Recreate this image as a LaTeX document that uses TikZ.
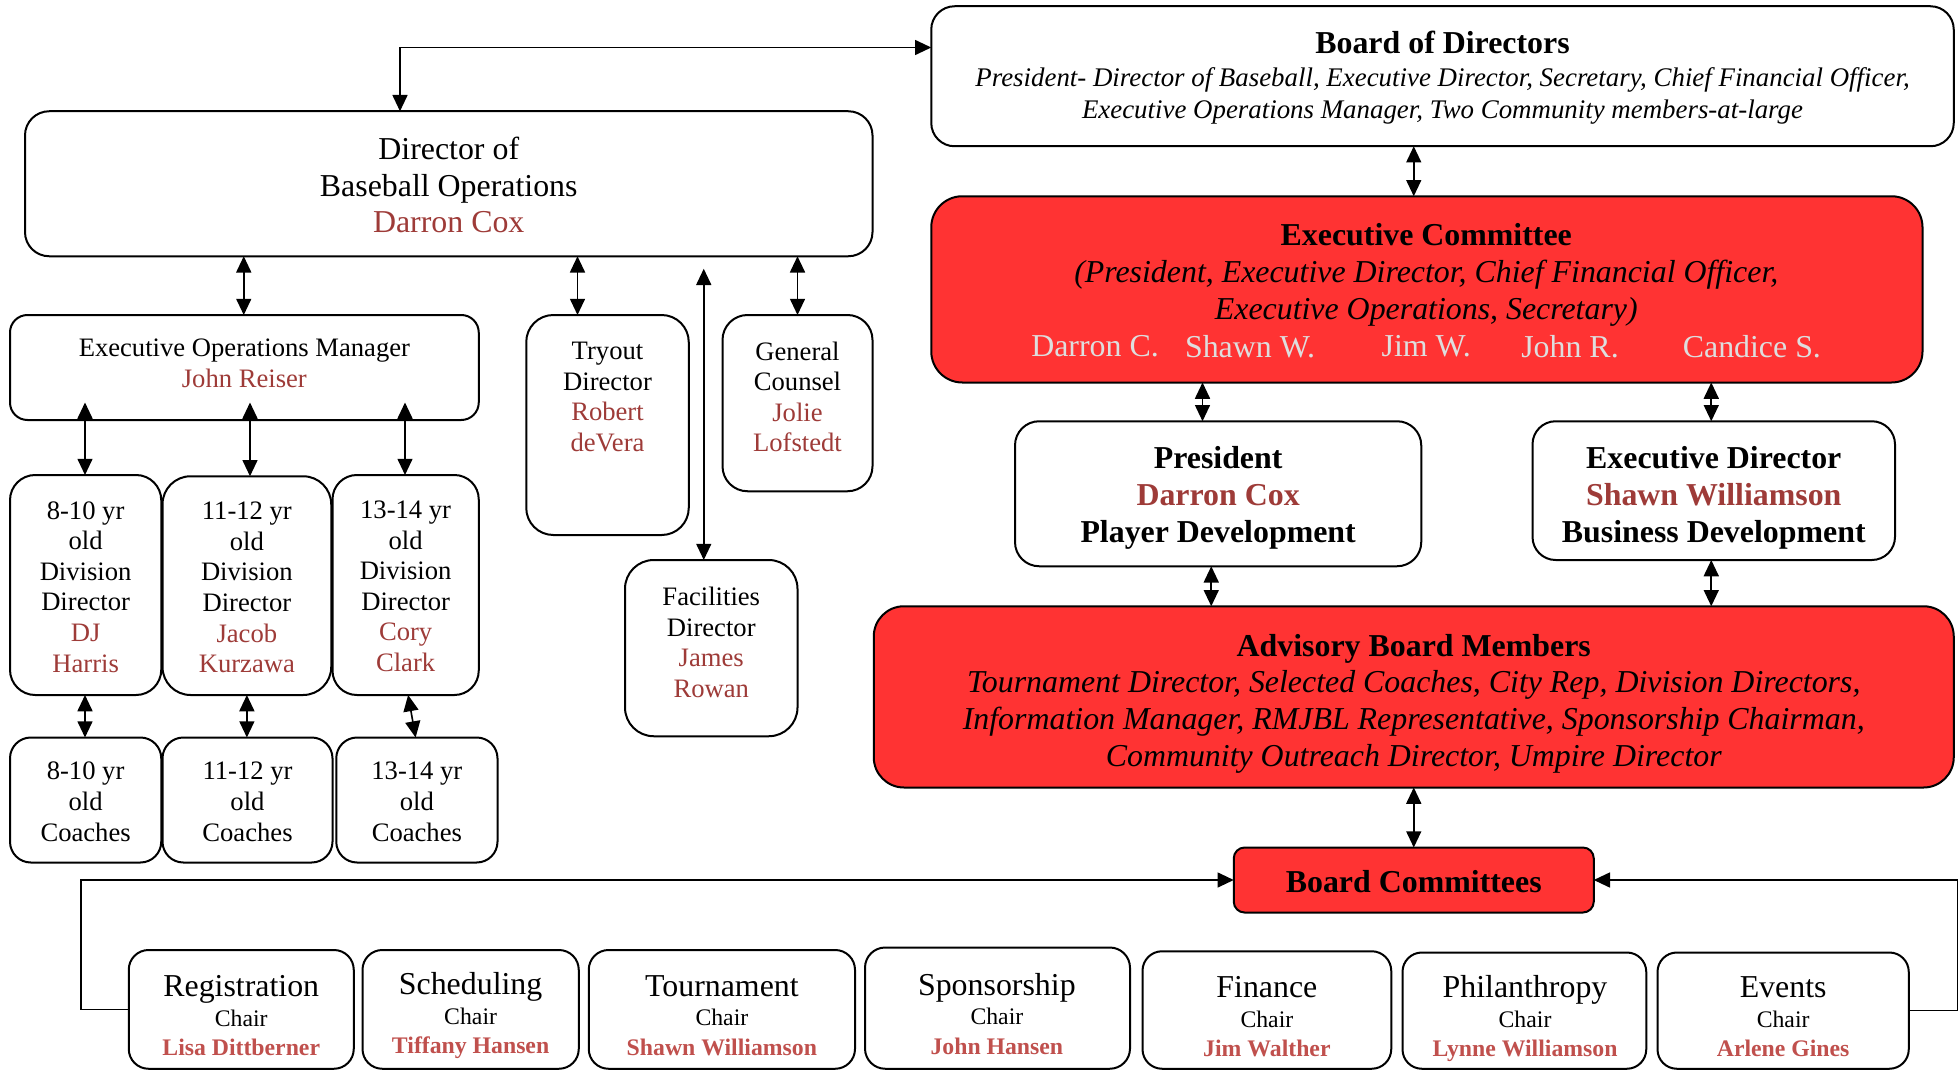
\documentclass[tikz,border=0pt]{standalone}
\usepackage{fontspec}
\setmainfont{Liberation Serif}
\usetikzlibrary{arrows.meta,calc}
\definecolor{boxred}{HTML}{FF3333}
\definecolor{namered}{HTML}{9E3B38}
\definecolor{chairred}{HTML}{C0504D}
\definecolor{lightname}{HTML}{DEDEDE}
\newcommand\fL{\fontsize{25.5}{29.5}\selectfont}
\newcommand\fS{\fontsize{21.3}{24.5}\selectfont}
\newcommand\fXS{\fontsize{19}{23.5}\selectfont}
\newcommand\nm[1]{\textcolor{namered}{#1}}
\newcommand\cn[1]{\textcolor{chairred}{\bfseries #1}}
\newcommand\mkbox[6]{%
  \pgfmathsetmacro\mkBW{#5-#3}\pgfmathsetmacro\mkBH{#6-#4}%
  \pgfmathsetmacro\mkCX{(#3+#5)/2}\pgfmathsetmacro\mkCY{(#4+#6)/2}%
  \pgfmathsetmacro\mkR{min(\mkBW,\mkBH)/6}%
  \node[#1, rounded corners=\mkR pt, minimum width=\mkBW pt, minimum height=\mkBH pt] (#2) at (\mkCX,\mkCY) {};}
\tikzset{
  box/.style={draw=black, line width=1.6pt, fill=white, inner sep=0pt, outer sep=0pt},
  redbox/.style={box, fill=boxred},
  txt/.style={align=center, inner sep=0pt},
  link/.style={line width=1.3pt, {Triangle[length=13pt,width=12pt]}-{Triangle[length=13pt,width=12pt]}},
  linkto/.style={line width=1.3pt, -{Triangle[length=13pt,width=12pt]}},
}
\begin{document}
\begin{tikzpicture}[x=1pt,y=-1pt]
\useasboundingbox (0,0) rectangle (1568,856);
\fill[white] (0,0) rectangle (1568,856);
\clip (0,0) rectangle (1568,856);

% ---- boxes ----
\mkbox{box}{bod}{745}{5}{1563}{117}
\mkbox{redbox}{exec}{745}{157}{1538}{306}
\mkbox{box}{dir}{20}{89}{698}{205}
\mkbox{box}{eom}{8}{252}{383}{336}
\mkbox{box}{tryout}{421}{252}{551}{428}
\mkbox{box}{gc}{578}{252}{698}{393}
\mkbox{box}{fac}{500}{448}{638}{589}
\mkbox{box}{div1}{8}{380}{129}{556}
\mkbox{box}{div2}{130}{381}{265}{556}
\mkbox{box}{div3}{266}{380}{383}{556}
\mkbox{box}{co1}{8}{590}{129}{690}
\mkbox{box}{co2}{130}{590}{266}{690}
\mkbox{box}{co3}{269}{590}{398}{690}
\mkbox{box}{pres}{812}{337}{1137}{453}
\mkbox{box}{ed}{1226}{337}{1516}{448}
\mkbox{redbox}{adv}{699}{485}{1563}{630}
\mkbox{redbox}{bc}{987}{678}{1275}{730}
\mkbox{box}{reg}{103}{760}{283}{855}
\mkbox{box}{sch}{290}{760}{463}{855}
\mkbox{box}{tou}{471}{760}{684}{855}
\mkbox{box}{spo}{692}{758}{904}{855}
\mkbox{box}{fin}{914}{761}{1113}{855}
\mkbox{box}{phi}{1122}{762}{1317}{855}
\mkbox{box}{eve}{1326}{762}{1527}{855}

% ---- texts ----
\node[txt, font=\fontsize{21.5}{25.5}\selectfont\itshape] (bodT) at (1154,62) {{\fL\bfseries\upshape Board of Directors}\\[1.5pt]
  President- Director of Baseball, Executive Director, Secretary, Chief Financial Officer,\\
  Executive Operations Manager, Two Community members-at-large};
\node[txt, font=\fL\itshape] (execT) at (1141,220) {{\bfseries\upshape Executive Committee}\\
  (President, Executive Director, Chief Financial Officer,\\
  Executive Operations, Secretary)};
\node[txt, font=\fL, text=lightname] (n1) at (876,277) {Darron C.};
\node[txt, font=\fL, text=lightname] (n2) at (1000,277) {Shawn W.};
\node[txt, font=\fL, text=lightname] (n3) at (1141,277) {Jim W.};
\node[txt, font=\fL, text=lightname] (n4) at (1256,277) {John R.};
\node[txt, font=\fL, text=lightname] (n5) at (1401.5,277) {Candice S.};

\node[txt, font=\fL] (dirT) at (359,148) {Director of\\ Baseball Operations\\ \nm{Darron Cox}};
\node[txt, font=\fS] (eomT) at (195.5,290.5) {Executive Operations Manager\\ \nm{John Reiser}};
\node[txt, font=\fS] (tryT) at (486,317.5) {Tryout\\ Director\\ \nm{Robert}\\ \nm{deVera}};
\node[txt, font=\fS] (gcT) at (638,317.5) {General\\ Counsel\\ \nm{Jolie}\\ \nm{Lofstedt}};
\node[txt, font=\fS] (facT) at (569,514) {Facilities\\ Director\\ \nm{James}\\ \nm{Rowan}};
\node[txt, font=\fS] (d1T) at (68.5,469.5) {8-10 yr\\ old\\ Division\\ Director\\ \nm{DJ}\\ \nm{Harris}};
\node[txt, font=\fS] (d2T) at (197.5,470) {11-12 yr\\ old\\ Division\\ Director\\ \nm{Jacob}\\ \nm{Kurzawa}};
\node[txt, font=\fS] (d3T) at (324.5,469) {13-14 yr\\ old\\ Division\\ Director\\ \nm{Cory}\\ \nm{Clark}};
\node[txt, font=\fS] (c1T) at (68.5,641.5) {8-10 yr\\ old\\ Coaches};
\node[txt, font=\fS] (c2T) at (198,641.5) {11-12 yr\\ old\\ Coaches};
\node[txt, font=\fS] (c3T) at (333.5,641.5) {13-14 yr\\ old\\ Coaches};

\node[txt, font=\fL\bfseries] (presT) at (974.5,398.5) {President\\ \nm{Darron Cox}\\ Player Development};
\node[txt, font=\fL\bfseries] (edT) at (1371,398.5) {Executive Director\\ \nm{Shawn Williamson}\\ Business Development};
\node[txt, font=\fL\itshape] (advT) at (1131,563) {{\bfseries\upshape Advisory Board Members}\\
  Tournament Director, Selected Coaches, City Rep, Division Directors,\\
  Information Manager, RMJBL Representative, Sponsorship Chairman,\\
  Community Outreach Director, Umpire Director};
\node[txt, font=\fL\bfseries] (bcT) at (1131,705) {Board Committees};

\node[txt, font=\fXS] (regT) at (193,812.5) {{\fL Registration}\\ Chair\\ \cn{Lisa Dittberner}};
\node[txt, font=\fXS] (schT) at (376.5,812.5) {{\fL Scheduling}\\ Chair\\ \cn{Tiffany Hansen}};
\node[txt, font=\fXS] (touT) at (577.5,812.5) {{\fL Tournament}\\ Chair\\ \cn{Shawn Williamson}};
\node[txt, font=\fXS] (spoT) at (797.5,811) {{\fL Sponsorship}\\ Chair\\ \cn{John Hansen}};
\node[txt, font=\fXS] (finT) at (1013.5,813.5) {{\fL Finance}\\ Chair\\ \cn{Jim Walther}};
\node[txt, font=\fXS] (phiT) at (1220,815) {{\fL Philanthropy}\\ Chair\\ \cn{Lynne Williamson}};
\node[txt, font=\fXS] (eveT) at (1426.5,813.5) {{\fL Events}\\ Chair\\ \cn{Arlene Gines}};

% ---- helper coordinates ----
\coordinate (jTop) at (320,38);
\coordinate (xA) at (1131,0);
\coordinate (xP) at (962,0);
\coordinate (xE) at (1369,0);
\coordinate (xP2) at (969,0);
\coordinate (xM) at (195,0);
\coordinate (xT) at (462,0);
\coordinate (xG) at (638,0);
\coordinate (facTop) at (563,215);
\coordinate (e1) at (68,322);
\coordinate (e2) at (200,322);
\coordinate (e3) at (324,322);
\coordinate (cL) at (65,0);
\coordinate (cR) at (1566,0);

% ---- connectors ----
\draw[link] (dir.north -| jTop) |- (bod.west |- jTop);
\draw[link] (bod.south -| xA) -- (exec.north -| xA);
\draw[link] (exec.south -| xP) -- (pres.north -| xP);
\draw[link] (exec.south -| xE) -- (ed.north -| xE);
\draw[link] (pres.south -| xP2) -- (adv.north -| xP2);
\draw[link] (ed.south -| xE) -- (adv.north -| xE);
\draw[link] (adv.south -| xA) -- (bc.north -| xA);
\draw[linkto] (reg.west) -- (reg.west -| cL) |- (bc.west);
\draw[linkto] (eve.east) -- (eve.east -| cR) |- (bc.east);

\draw[link] (dir.south -| xM) -- (eom.north -| xM);
\draw[link] (dir.south -| xT) -- (tryout.north -| xT);
\draw[link] (dir.south -| xG) -- (gc.north -| xG);
\draw[link] (facTop) -- (fac.north -| facTop);

\draw[link] (e1) -- (div1.north -| e1);
\draw[link] (e2) -- (div2.north -| e2);
\draw[link] (e3) -- (div3.north -| e3);
\draw[link] (div1.south -| e1) -- (co1.north -| e1);
\draw[link] (div2.south) -- (co2.north -| div2.south);
\draw[link] ([xshift=2pt]div3.south) -- ([xshift=-1pt]co3.north);
\end{tikzpicture}
\end{document}
